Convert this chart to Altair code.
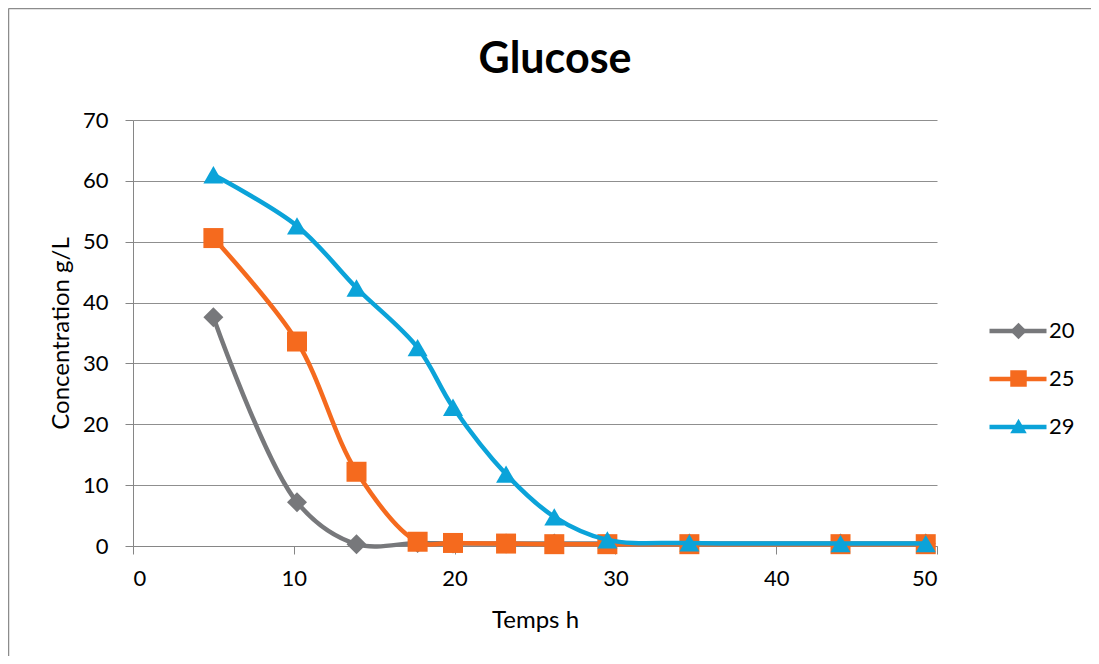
import altair as alt
import pandas as pd

# ---- data ----
temps = [5, 10.2, 13.9, 17.7, 19.9, 23.2, 26.2, 29.5, 34.6, 44, 49.3]
s20 = [37.6, 7.2, 0.3, 0.5, 0.4, 0.4, 0.4, 0.4, 0.4, 0.4, 0.4]
s25 = [50.6, 33.6, 12.2, 0.7, 0.5, 0.4, 0.3, 0.3, 0.3, 0.3, 0.3]
s29 = [61.0, 52.6, 42.4, 32.6, 22.8, 11.8, 4.8, 1.0, 0.5, 0.4, 0.4]
series = ["20", "25", "29"]
colors = ["#77787B", "#F56A1E", "#0BA3D9"]
shapes = ["diamond", "square", "triangle-up"]
x_ticks = [0, 10, 20, 30, 40, 50]
y_ticks = [0, 10, 20, 30, 40, 50, 60, 70]
title_text = ["Glucose"]

rows = []
for name, vals in zip(series, [s20, s25, s29]):
    for t, v in zip(temps, vals):
        rows.append({"temps": t, "conc": v, "serie": name, "marqueur": name})
df = pd.DataFrame(rows)

FONT = "Lato"
GRID = "#8F8F8F"

xenc = alt.X("temps:Q",
             scale=alt.Scale(domain=[0, 50], nice=False),
             axis=alt.Axis(values=x_ticks, title="Temps h", grid=False,
                           labelPadding=14, titlePadding=19))
yenc = alt.Y("conc:Q",
             scale=alt.Scale(domain=[0, 70], nice=False),
             axis=alt.Axis(values=y_ticks, title="Concentration g/L", grid=True,
                           labelPadding=17, titlePadding=9))

line_legend = alt.Legend(
    orient="none", legendX=854, legendY=180, title=None,
    symbolType="stroke", symbolSize=3249,
    symbolStrokeWidth=4.5, labelFontSize=22, labelFont=FONT,
    labelColor="black", rowPadding=6, labelOffset=0, padding=0,
)
# marker-only legend laid over the line legend (no labels of its own)
point_legend = alt.Legend(
    orient="none", legendX=874.5, legendY=200, title=None,
    symbolSize=272, symbolStrokeWidth=0, labelFontSize=22,
    labelFont=FONT, labelExpr="''", rowPadding=25.5, padding=0,
)

color_enc = alt.Color("serie:N", scale=alt.Scale(domain=series, range=colors),
                      legend=line_legend)
fill_enc = alt.Fill("marqueur:N", scale=alt.Scale(range=colors),
                    legend=point_legend)
shape_enc = alt.Shape("marqueur:N", scale=alt.Scale(range=shapes),
                      legend=point_legend)

one = pd.DataFrame({"k": [0]})
border_top = alt.Chart(one).mark_rule(stroke="#8C8C8C", strokeWidth=1.5).encode(
    x=alt.value(-124.5), x2=alt.value(1500), y=alt.value(-111.5))
border_left = alt.Chart(one).mark_rule(stroke="#8C8C8C", strokeWidth=1.5).encode(
    x=alt.value(-124.5), y=alt.value(-111.5), y2=alt.value(900))

title = alt.Chart(pd.DataFrame({"t": title_text})).mark_text(
    font=FONT, fontSize=43, fontWeight="bold", color="black",
    align="center", baseline="middle"
).encode(text="t:N", x=alt.value(422), y=alt.value(-60))

layers = [border_top, border_left, title]
for name in series:
    base = alt.Chart(df).transform_filter(alt.datum.serie == name)
    layers.append(
        base.mark_line(interpolate="catmull-rom", strokeWidth=4.5,
                       strokeCap="round", strokeJoin="round")
        .encode(x=xenc, y=yenc, color=color_enc)
    )
    layers.append(
        base.mark_point(filled=True, opacity=1, strokeWidth=0)
        .encode(x=xenc, y=yenc, fill=fill_enc, shape=shape_enc, size=alt.value(400))
    )

chart = alt.layer(*layers).properties(
    width=804, height=426,
    autosize=alt.AutoSizeParams(type="none"),
    padding={"left": 125, "top": 112, "right": 154, "bottom": 110},
).configure_view(stroke=None).configure_axis(
    domainColor="#868686", tickColor="#868686", tickSize=8, gridColor=GRID,
    labelFont=FONT, labelFontSize=22, labelColor="black",
    titleFont=FONT, titleFontSize=24, titleFontWeight="normal", titleColor="black",
    domainWidth=1, tickWidth=1, gridWidth=1,
)

chart.save("out.html", embed_options={"renderer": "svg", "actions": False})
